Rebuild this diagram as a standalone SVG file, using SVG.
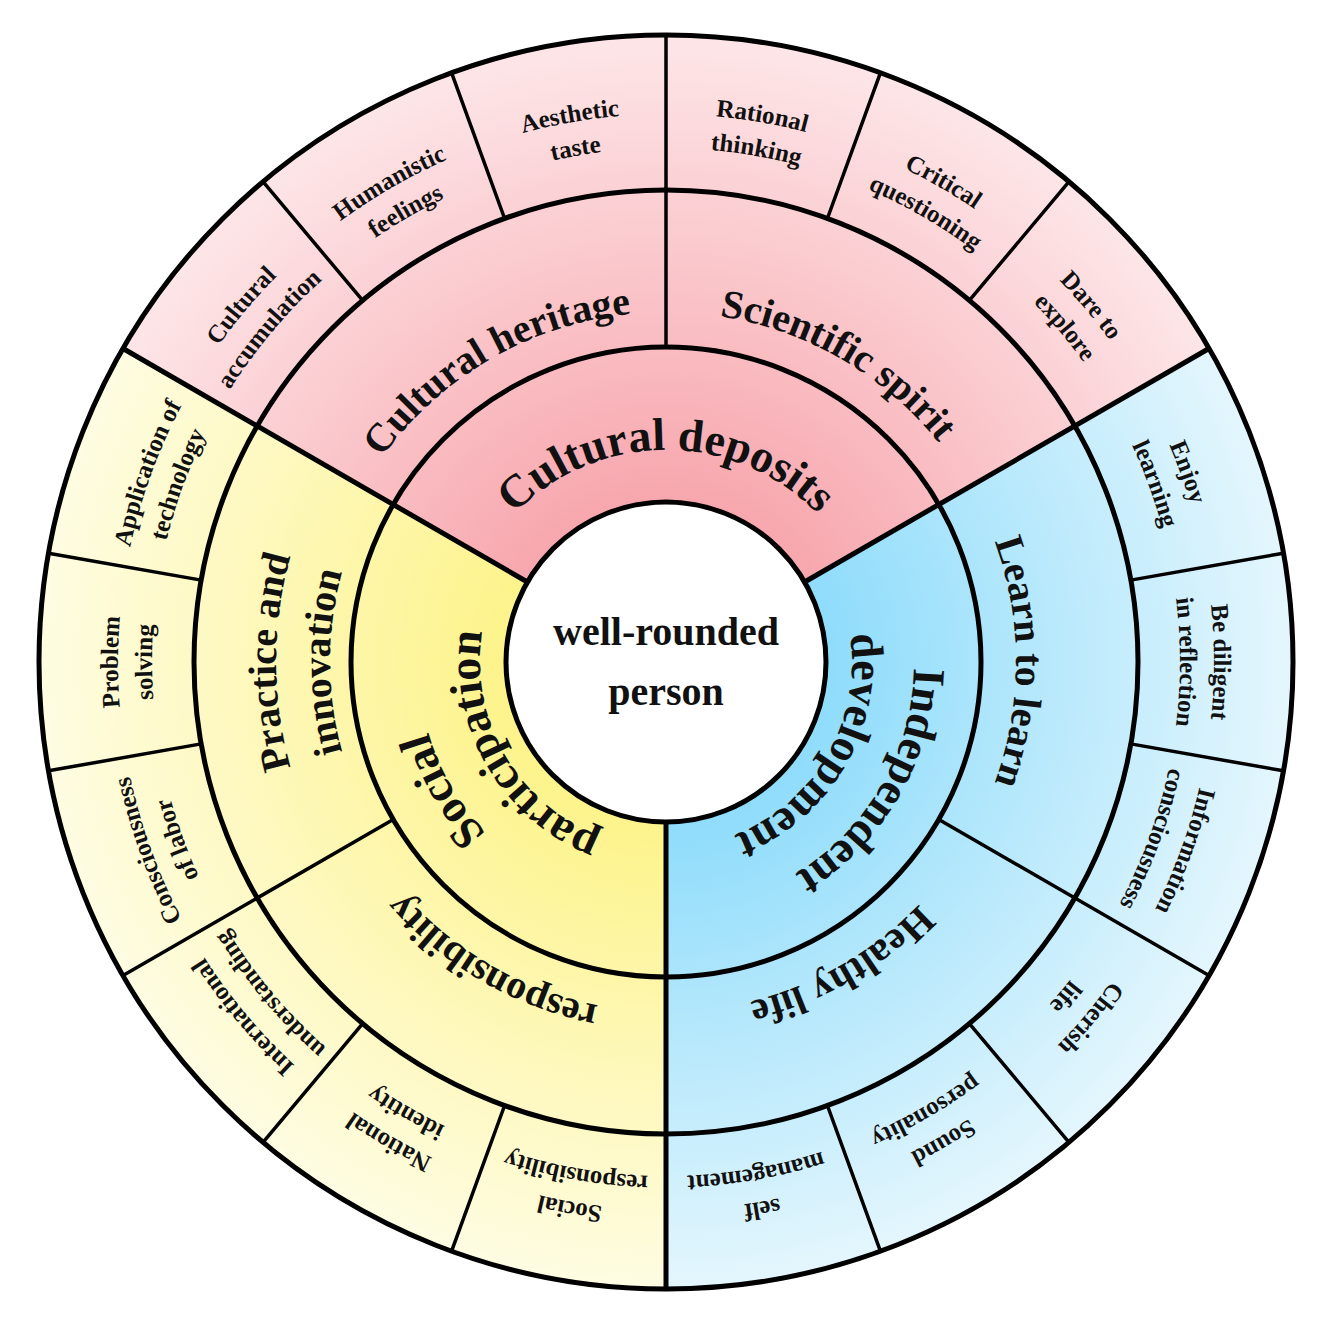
<svg xmlns="http://www.w3.org/2000/svg" xmlns:xlink="http://www.w3.org/1999/xlink" width="1320" height="1320" viewBox="0 0 1320 1320">
<style>
text{font-family:"Liberation Serif","Times New Roman",serif;font-weight:bold;fill:#111;text-anchor:middle}
.o{font-size:25px}.m{font-size:40px}.i{font-size:46px}
.b{stroke:#000;stroke-width:5;fill:none}.t{stroke:#000;stroke-width:3.5;fill:none}
</style>
<defs>
<radialGradient id="gr" gradientUnits="userSpaceOnUse" cx="666" cy="662" r="627"><stop offset="0.25" stop-color="#f7a6ad"/><stop offset="1" stop-color="#fde6e8"/></radialGradient>
<radialGradient id="gb" gradientUnits="userSpaceOnUse" cx="666" cy="662" r="627"><stop offset="0.25" stop-color="#8edcfb"/><stop offset="1" stop-color="#e4f6fd"/></radialGradient>
<radialGradient id="gy" gradientUnits="userSpaceOnUse" cx="666" cy="662" r="627"><stop offset="0.25" stop-color="#fdf38a"/><stop offset="1" stop-color="#fefce2"/></radialGradient>
<path id="r548" d="M666 1210A548 548 0 0 1 666 114A548 548 0 0 1 666 1210"/>
<path id="r514" d="M666 1176A514 514 0 0 1 666 148A514 514 0 0 1 666 1176"/>
<path id="r350" d="M666 1012A350 350 0 0 1 666 312A350 350 0 0 1 666 1012"/>
<path id="r390" d="M666 1052A390 390 0 0 1 666 272A390 390 0 0 1 666 1052"/>
<path id="r336" d="M666 998A336 336 0 0 1 666 326A336 336 0 0 1 666 998"/>
<path id="r212" d="M666 874A212 212 0 0 1 666 450A212 212 0 0 1 666 874"/>
<path id="r248" d="M666 910A248 248 0 0 1 666 414A248 248 0 0 1 666 910"/>
<path id="r186" d="M666 848A186 186 0 0 1 666 476A186 186 0 0 1 666 848"/>
</defs>
<g id="sectors">
<path d="M666 662L123 348.5A627 627 0 0 1 1209 348.5Z" fill="url(#gr)"/>
<path d="M666 662L1209 348.5A627 627 0 0 1 666 1289Z" fill="url(#gb)"/>
<path d="M666 662L666 1289A627 627 0 0 1 123 348.5Z" fill="url(#gy)"/>
</g>
<g id="connectors">
<circle class="b" cx="666" cy="662" r="627"/>
<circle class="b" cx="666" cy="662" r="472"/>
<circle class="b" cx="666" cy="662" r="315"/>
<path class="b" d="M527.4 582L123 348.5M804.6 582L1209 348.5M666 822L666 1289"/>
<path class="t" d="M666 347L666 35M938.8 819.5L1209 975.5M393.2 819.5L123 975.5
M362.6 300.4L263 181.7M504.6 218.5L451.6 72.8M827.4 218.5L880.4 72.8M969.4 300.4L1069 181.7
M1130.8 580.1L1283.5 553.2M1130.8 743.9L1283.5 770.8M969.4 1023.6L1069 1142.3M827.4 1105.5L880.4 1251.2
M504.6 1105.5L451.6 1251.2M362.6 1023.6L263 1142.3M201.2 743.9L48.5 770.8M201.2 580.1L48.5 553.2"/>
</g>
<g id="center">
<circle cx="666" cy="662" r="160" fill="#fff" stroke="#000" stroke-width="5"/>
<text x="666" y="645" style="font-size:40px">well-rounded</text>
<text x="666" y="705" style="font-size:40px">person</text>
</g>
<g id="inner">
<text class="i"><textPath href="#r212" startOffset="50%">Cultural deposits</textPath></text>
<text class="i" transform="rotate(120 666 662)"><textPath href="#r248" startOffset="50%">Independent</textPath></text>
<text class="i" transform="rotate(120 666 662)"><textPath href="#r186" startOffset="50%">development</textPath></text>
<text class="i" transform="rotate(240 666 662)"><textPath href="#r248" startOffset="50%">Social</textPath></text>
<text class="i" transform="rotate(240 666 662)"><textPath href="#r186" startOffset="50%">participation</textPath></text>
</g>
<g id="middle">
<text class="m" transform="rotate(-30 666 662)"><textPath href="#r350" startOffset="50%">Cultural heritage</textPath></text>
<text class="m" transform="rotate(30 666 662)"><textPath href="#r350" startOffset="50%">Scientific spirit</textPath></text>
<text class="m" transform="rotate(90 666 662)"><textPath href="#r350" startOffset="50%">Learn to learn</textPath></text>
<text class="m" transform="rotate(150 666 662)"><textPath href="#r350" startOffset="50%">Healthy life</textPath></text>
<text class="m" transform="rotate(210 666 662)"><textPath href="#r350" startOffset="50%">responsibility</textPath></text>
<text class="m" transform="rotate(270 666 662)"><textPath href="#r390" startOffset="50%">Practice and</textPath></text>
<text class="m" transform="rotate(270 666 662)"><textPath href="#r336" startOffset="50%">innovation</textPath></text>
</g>
<g id="outer">
<text class="o" transform="rotate(-50 666 662)"><textPath href="#r548" startOffset="50%">Cultural</textPath></text>
<text class="o" transform="rotate(-50 666 662)"><textPath href="#r514" startOffset="50%">accumulation</textPath></text>
<text class="o" transform="rotate(-30 666 662)"><textPath href="#r548" startOffset="50%">Humanistic</textPath></text>
<text class="o" transform="rotate(-30 666 662)"><textPath href="#r514" startOffset="50%">feelings</textPath></text>
<text class="o" transform="rotate(-10 666 662)"><textPath href="#r548" startOffset="50%">Aesthetic</textPath></text>
<text class="o" transform="rotate(-10 666 662)"><textPath href="#r514" startOffset="50%">taste</textPath></text>
<text class="o" transform="rotate(10 666 662)"><textPath href="#r548" startOffset="50%">Rational</textPath></text>
<text class="o" transform="rotate(10 666 662)"><textPath href="#r514" startOffset="50%">thinking</textPath></text>
<text class="o" transform="rotate(30 666 662)"><textPath href="#r548" startOffset="50%">Critical</textPath></text>
<text class="o" transform="rotate(30 666 662)"><textPath href="#r514" startOffset="50%">questioning</textPath></text>
<text class="o" transform="rotate(50 666 662)"><textPath href="#r548" startOffset="50%">Dare to</textPath></text>
<text class="o" transform="rotate(50 666 662)"><textPath href="#r514" startOffset="50%">explore</textPath></text>
<text class="o" transform="rotate(70 666 662)"><textPath href="#r548" startOffset="50%">Enjoy</textPath></text>
<text class="o" transform="rotate(70 666 662)"><textPath href="#r514" startOffset="50%">learning</textPath></text>
<text class="o" transform="rotate(90 666 662)"><textPath href="#r548" startOffset="50%">Be diligent</textPath></text>
<text class="o" transform="rotate(90 666 662)"><textPath href="#r514" startOffset="50%">in reflection</textPath></text>
<text class="o" transform="rotate(110 666 662)"><textPath href="#r548" startOffset="50%">Information</textPath></text>
<text class="o" transform="rotate(110 666 662)"><textPath href="#r514" startOffset="50%">consciousness</textPath></text>
<text class="o" transform="rotate(130 666 662)"><textPath href="#r548" startOffset="50%">Cherish</textPath></text>
<text class="o" transform="rotate(130 666 662)"><textPath href="#r514" startOffset="50%">life</textPath></text>
<text class="o" transform="rotate(150 666 662)"><textPath href="#r548" startOffset="50%">Sound</textPath></text>
<text class="o" transform="rotate(150 666 662)"><textPath href="#r514" startOffset="50%">personality</textPath></text>
<text class="o" transform="rotate(170 666 662)"><textPath href="#r548" startOffset="50%">self</textPath></text>
<text class="o" transform="rotate(170 666 662)"><textPath href="#r514" startOffset="50%">management</textPath></text>
<text class="o" transform="rotate(190 666 662)"><textPath href="#r548" startOffset="50%">Social</textPath></text>
<text class="o" transform="rotate(190 666 662)"><textPath href="#r514" startOffset="50%">responsibility</textPath></text>
<text class="o" transform="rotate(210 666 662)"><textPath href="#r548" startOffset="50%">National</textPath></text>
<text class="o" transform="rotate(210 666 662)"><textPath href="#r514" startOffset="50%">identity</textPath></text>
<text class="o" transform="rotate(230 666 662)"><textPath href="#r548" startOffset="50%">International</textPath></text>
<text class="o" transform="rotate(230 666 662)"><textPath href="#r514" startOffset="50%">understanding</textPath></text>
<text class="o" transform="rotate(250 666 662)"><textPath href="#r548" startOffset="50%">Consciousness</textPath></text>
<text class="o" transform="rotate(250 666 662)"><textPath href="#r514" startOffset="50%">of labor</textPath></text>
<text class="o" transform="rotate(270 666 662)"><textPath href="#r548" startOffset="50%">Problem</textPath></text>
<text class="o" transform="rotate(270 666 662)"><textPath href="#r514" startOffset="50%">solving</textPath></text>
<text class="o" transform="rotate(290 666 662)"><textPath href="#r548" startOffset="50%">Application of</textPath></text>
<text class="o" transform="rotate(290 666 662)"><textPath href="#r514" startOffset="50%">technology</textPath></text>
</g>
</svg>
